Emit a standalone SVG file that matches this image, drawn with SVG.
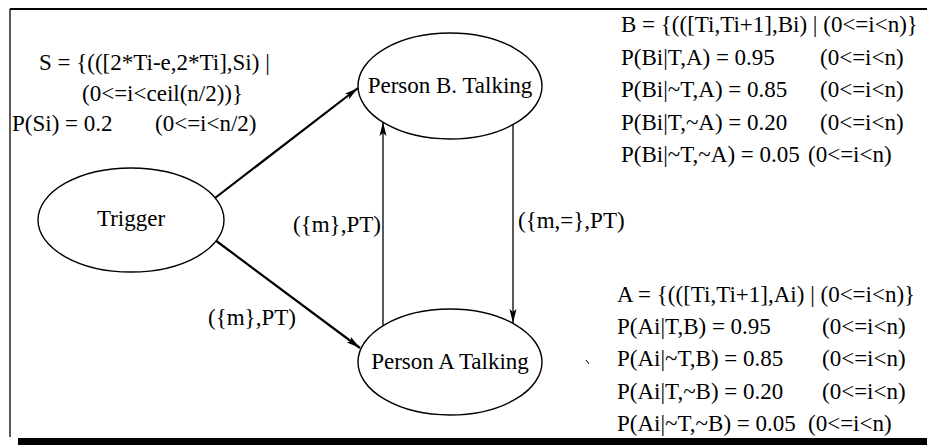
<svg xmlns="http://www.w3.org/2000/svg" width="927" height="445" viewBox="0 0 927 445" font-family="'Liberation Serif', 'Times New Roman', serif">
<defs>
<style>
text{font-family:"Liberation Serif","Times New Roman",serif;font-size:23px;fill:#000}
.node ellipse{fill:#fff;stroke:#000;stroke-width:1.4}
.edge{stroke:#000;fill:none;stroke-width:1.3}
.thick{stroke-width:2.2}
</style>
<marker id="ah" viewBox="0 0 14 8" refX="14" refY="4" markerWidth="14" markerHeight="8" markerUnits="userSpaceOnUse" orient="auto">
<path d="M0,0.5 L14,4 L0,7.5 L3,4 Z" fill="#000"/>
</marker>
</defs>
<rect width="927" height="445" fill="#fff"/>
<g id="frame">
<line x1="10" y1="9" x2="927" y2="9" stroke="#000" stroke-width="1.8"/>
<line x1="10" y1="9" x2="10" y2="437" stroke="#000" stroke-width="1.3"/>
<rect x="18" y="438" width="909" height="7" fill="#000"/>
</g>
<g id="connectors">
<line class="edge thick" x1="215" y1="198" x2="358" y2="88" marker-end="url(#ah)"/>
<line class="edge thick" x1="215" y1="240" x2="360" y2="348" marker-end="url(#ah)"/>
<line class="edge" x1="383" y1="326" x2="383" y2="122" marker-end="url(#ah)"/>
<line class="edge" x1="513" y1="125" x2="513" y2="323" marker-end="url(#ah)"/>
<text x="293" y="232">({m},PT)</text>
<text x="518" y="228">({m,=},PT)</text>
<text x="208" y="325">({m},PT)</text>
</g>
<g id="trigger" class="node">
<ellipse cx="131" cy="220" rx="93" ry="52"/>
<text x="131" y="226" text-anchor="middle">Trigger</text>
</g>
<g id="personB" class="node">
<ellipse cx="450" cy="86" rx="92" ry="53"/>
<text x="450" y="93" text-anchor="middle">Person B. Talking</text>
</g>
<g id="personA" class="node">
<ellipse cx="450" cy="362" rx="92" ry="53"/>
<text x="450" y="369" text-anchor="middle">Person A Talking</text>
</g>
<g id="S-notes">
<text x="39" y="70">S = {(([2*Ti-e,2*Ti],Si) |</text>
<text x="82" y="101">(0&lt;=i&lt;ceil(n/2))}</text>
<text x="12" y="131">P(Si) = 0.2</text>
<text x="155" y="131">(0&lt;=i&lt;n/2)</text>
</g>
<g id="B-notes">
<text x="621" y="32">B = {(([Ti,Ti+1],Bi) | (0&lt;=i&lt;n)}</text>
<text x="621" y="64.5">P(Bi|T,A) = 0.95</text><text x="820" y="64.5">(0&lt;=i&lt;n)</text>
<text x="621" y="97">P(Bi|~T,A) = 0.85</text><text x="820" y="97">(0&lt;=i&lt;n)</text>
<text x="621" y="129.5">P(Bi|T,~A) = 0.20</text><text x="820" y="129.5">(0&lt;=i&lt;n)</text>
<text x="621" y="162">P(Bi|~T,~A) = 0.05</text><text x="808" y="162">(0&lt;=i&lt;n)</text>
</g>
<g id="A-notes">
<text x="617" y="302">A = {(([Ti,Ti+1],Ai) | (0&lt;=i&lt;n)}</text>
<text x="617" y="334">P(Ai|T,B) = 0.95</text><text x="822" y="334">(0&lt;=i&lt;n)</text>
<text x="617" y="366">P(Ai|~T,B) = 0.85</text><text x="822" y="366">(0&lt;=i&lt;n)</text>
<text x="617" y="399">P(Ai|T,~B) = 0.20</text><text x="822" y="399">(0&lt;=i&lt;n)</text>
<text x="617" y="431">P(Ai|~T,~B) = 0.05</text><text x="808" y="431">(0&lt;=i&lt;n)</text>
</g>
<line x1="586" y1="360" x2="589" y2="364" stroke="#000" stroke-width="1"/>
</svg>
